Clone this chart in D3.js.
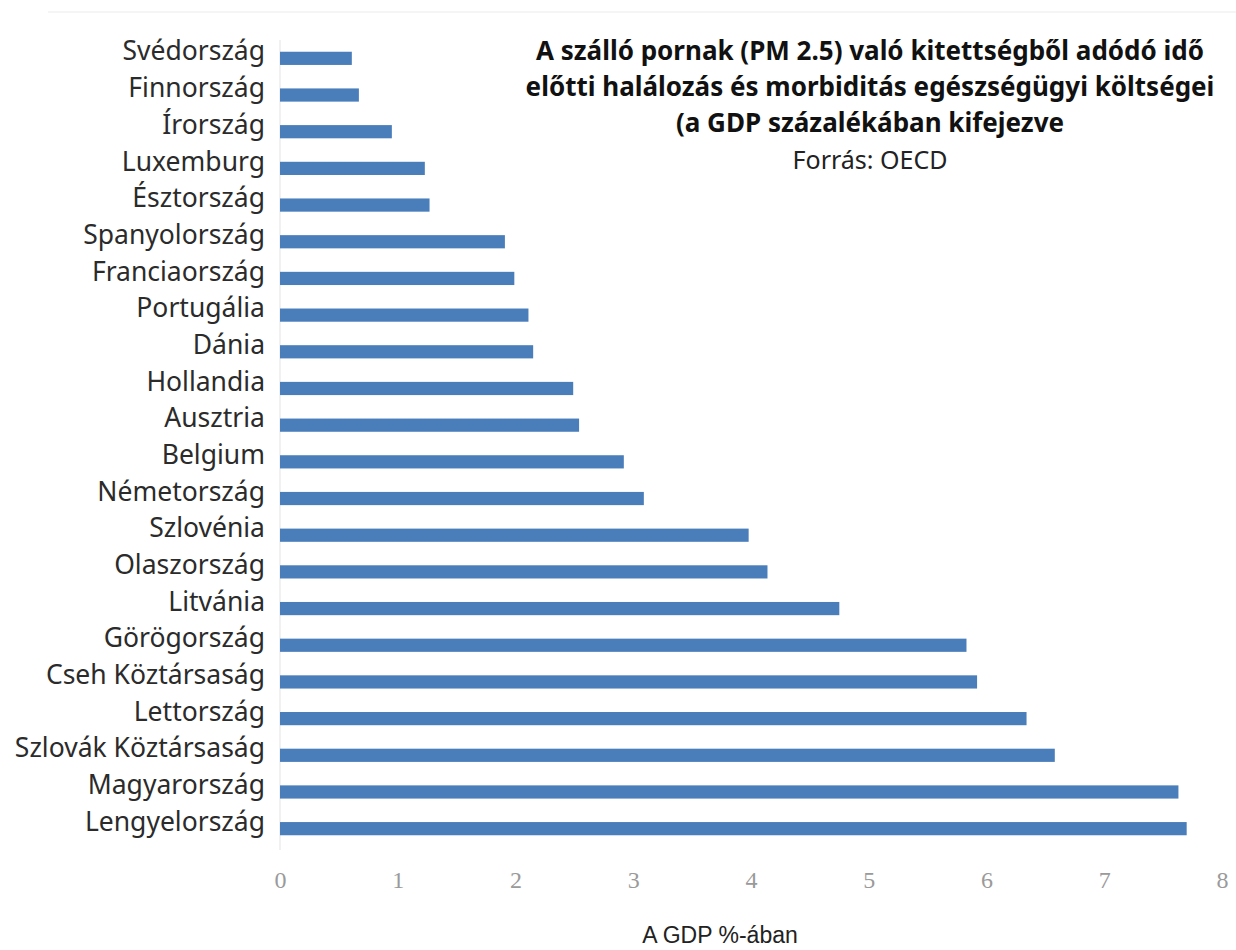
<!DOCTYPE html>
<html>
<head>
<meta charset="utf-8">
<script src="https://cdn.jsdelivr.net/npm/d3@7"></script>
<style>
  body { margin: 0; background: #fff; }
</style>
</head>
<body>
<div id="chart"></div>
<script>
// Countries, top to bottom
var countries = [
  "Svédország", "Finnország", "Írország", "Luxemburg", "Észtország",
  "Spanyolország", "Franciaország", "Portugália", "Dánia", "Hollandia",
  "Ausztria", "Belgium", "Németország", "Szlovénia", "Olaszország",
  "Litvánia", "Görögország", "Cseh Köztársaság", "Lettország",
  "Szlovák Köztársaság", "Magyarország", "Lengyelország"
];
// Cost as % of GDP
var values = [
  0.61, 0.67, 0.95, 1.23, 1.27,
  1.91, 1.99, 2.11, 2.15, 2.49,
  2.54, 2.92, 3.09, 3.98, 4.14,
  4.75, 5.83, 5.92, 6.34, 6.58,
  7.63, 7.70
];
var xTicks = [0, 1, 2, 3, 4, 5, 6, 7, 8];
var titleLines = [
  "A szálló pornak (PM 2.5) való kitettségből adódó idő",
  "előtti halálozás és morbiditás egészségügyi költségei",
  "(a GDP százalékában kifejezve"
];
var sourceText = "Forrás: OECD";
var axisTitle = "A GDP %-ában";

var data = countries.map(function (c, i) { return { country: c, value: values[i] }; });

var width = 1236, height = 950;

var svg = d3.select("#chart").append("svg")
  .attr("width", width)
  .attr("height", height);

// faint top rule
svg.append("line")
  .attr("x1", 48).attr("x2", width)
  .attr("y1", 12).attr("y2", 12)
  .attr("stroke", "#f5f5f5").attr("stroke-width", 2);

var x = d3.scaleLinear().domain([0, 8]).range([280, 1222]);

var y = d3.scaleBand()
  .domain(countries)
  .range([40, 847])
  .paddingInner(0.64)
  .paddingOuter(0.32);

// vertical axis line
svg.append("line")
  .attr("x1", x(0)).attr("x2", x(0))
  .attr("y1", 40).attr("y2", 850)
  .attr("stroke", "#ededed").attr("stroke-width", 1.5);

// bars
svg.append("g").selectAll("rect")
  .data(data)
  .enter().append("rect")
  .attr("x", x(0))
  .attr("y", function (d) { return y(d.country); })
  .attr("width", function (d) { return x(d.value) - x(0); })
  .attr("height", y.bandwidth())
  .attr("fill", "#4a7ebb");

// category labels
var yAxis = svg.append("g")
  .attr("transform", "translate(" + (x(0) - 15) + ",0)")
  .call(d3.axisLeft(y).tickSize(0).tickPadding(0));
yAxis.select(".domain").remove();
yAxis.selectAll("text")
  .attr("dy", "0.08em")
  .style("font-family", "'Noto Sans', sans-serif")
  .style("font-size", "26.5px")
  .attr("fill", "#2b2b2b");

// x tick labels
var xAxis = svg.append("g")
  .attr("transform", "translate(0,871)")
  .call(d3.axisBottom(x).tickValues(xTicks).tickSize(0).tickPadding(0));
xAxis.select(".domain").remove();
xAxis.selectAll("text")
  .attr("dy", "0.71em")
  .style("font-family", "'Liberation Serif', serif")
  .style("font-size", "24px")
  .attr("fill", "#9a9a9a");

// axis title
svg.append("text")
  .attr("x", 720).attr("y", 943)
  .attr("text-anchor", "middle")
  .style("font-family", "'Liberation Sans', sans-serif")
  .style("font-size", "23px")
  .attr("fill", "#222")
  .text(axisTitle);

// title
svg.append("g").selectAll("text")
  .data(titleLines)
  .enter().append("text")
  .attr("x", 870)
  .attr("y", function (d, i) { return 60 + i * 36; })
  .attr("text-anchor", "middle")
  .style("font-family", "'Noto Sans', sans-serif")
  .style("font-weight", "bold")
  .style("font-size", "26px")
  .attr("fill", "#111")
  .text(function (d) { return d; });

svg.append("text")
  .attr("x", 870).attr("y", 169)
  .attr("text-anchor", "middle")
  .style("font-family", "'Noto Sans', sans-serif")
  .style("font-size", "25px")
  .attr("fill", "#222")
  .text(sourceText);
</script>
</body>
</html>
